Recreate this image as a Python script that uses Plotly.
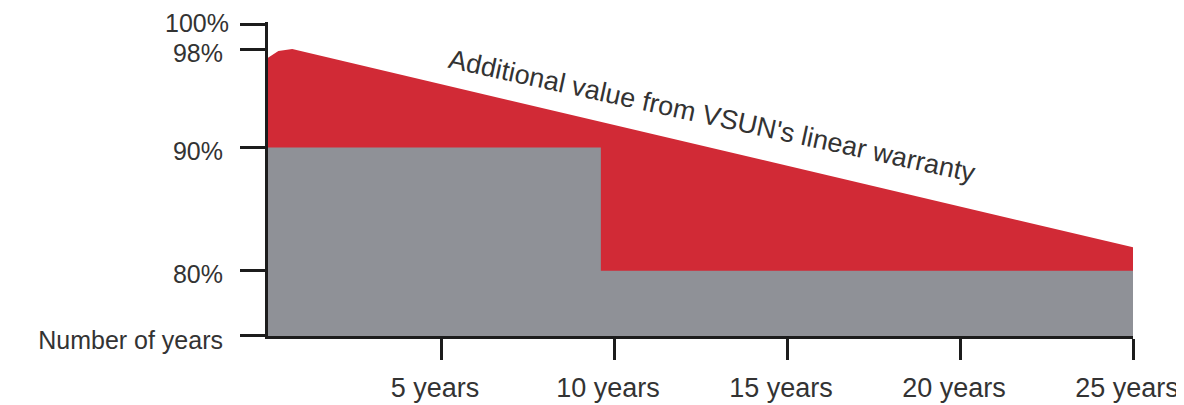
import plotly.graph_objects as go

# Linear warranty (red upper envelope)
linear_years = [0, 0.3, 0.7, 25]
linear_values = [97.3, 97.85, 98, 81.9]

# Step warranty (grey)
step_years = [0, 9.62, 9.62, 25]
step_values = [90, 90, 80, 80]

x_tick_vals = [5, 10, 15, 20, 25]
x_tick_text = ["5 years", "10 years", "15 years", "20 years", "25 years"]

y_tick_vals = [74.72, 80, 90, 98, 100]
y_tick_text = ["Number of years", "80%", "90%", "98%", ""]

top_label_value = 100
top_label_text = "100%"

annotation_text = "Additional value from VSUN's linear warranty"

RED = "#d12a36"
GREY = "#8f9197"
INK = "#1c1c1c"
TEXT = "#333333"
FONT = "Liberation Sans, Arial, sans-serif"
Y_RANGE = [74.7, 100.2]

# page body has an 8px margin, so the figure is sized to fit the window
fig = go.Figure()
fig.add_trace(go.Scatter(
    x=linear_years, y=linear_values, mode="lines", fill="tozeroy",
    fillcolor=RED, line=dict(width=0, color=RED), hoverinfo="skip",
    showlegend=False,
))
fig.add_trace(go.Scatter(
    x=step_years, y=step_values, mode="lines", fill="tozeroy",
    fillcolor=GREY, line=dict(width=0, color=GREY), hoverinfo="skip",
    showlegend=False,
))

fig.add_annotation(
    x=12.83, y=92.6, xref="x", yref="y", text=annotation_text,
    showarrow=False, textangle=12.3, font=dict(family=FONT, size=27, color=TEXT),
)
# label for the 100% tick, kept clear of the 98% label
fig.add_annotation(
    x=0, y=top_label_value, xref="paper", yref="y", text=top_label_text,
    showarrow=False, xanchor="right", yanchor="middle", xshift=-38, yshift=1,
    borderpad=0, font=dict(family=FONT, size=25, color=TEXT),
)

fig.update_layout(
    width=1176, height=397,
    margin=dict(l=260, r=51, t=14, b=69),
    paper_bgcolor="white", plot_bgcolor="white",
    showlegend=False,
    xaxis=dict(
        range=[0, 25], showgrid=False, zeroline=False, automargin=False,
        showline=True, linewidth=3, linecolor=INK,
        tickmode="array", tickvals=x_tick_vals, ticktext=x_tick_text,
        ticks="outside", ticklen=21, tickwidth=3, tickcolor=INK,
        ticklabelstandoff=5, ticklabelshift=-6,
        tickfont=dict(family=FONT, size=27, color=TEXT),
    ),
    yaxis=dict(
        range=Y_RANGE, showgrid=False, zeroline=False, automargin=False,
        showline=True, linewidth=3, linecolor=INK,
        tickmode="array", tickvals=y_tick_vals, ticktext=y_tick_text,
        ticks="outside", ticklen=25, tickwidth=3, tickcolor=INK,
        ticklabelstandoff=12, ticklabelshift=4,
        tickfont=dict(family=FONT, size=25, color=TEXT),
    ),
)

fig.write_html("out.html")
